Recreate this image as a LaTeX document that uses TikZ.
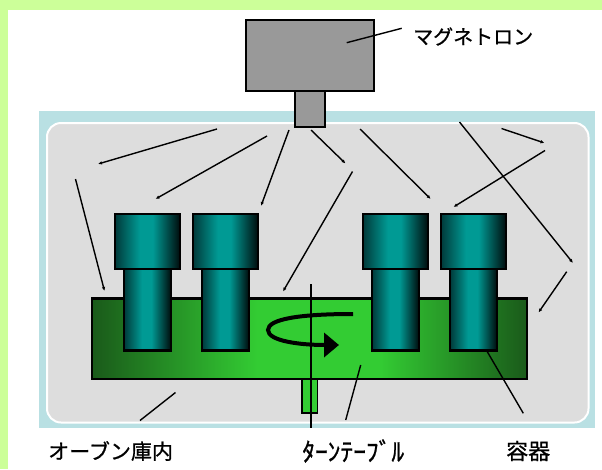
\documentclass[tikz,border=0pt]{standalone}
\usepackage{fontspec}
\newfontfamily\jp[FakeBold=0.8]{Noto Sans CJK JP}
\usepackage{tikz}
\usetikzlibrary{arrows.meta}
\definecolor{randgruen}{HTML}{CCFF99}
\definecolor{ofenblau}{HTML}{B9E0E3}
\definecolor{ofengrau}{HTML}{DDDDDD}
\definecolor{magnetgrau}{HTML}{999999}
\definecolor{tellerdunkel}{HTML}{1A5A1A}
\definecolor{tellerhell}{HTML}{33CC33}
\definecolor{tuerkisdunkel}{HTML}{003A3A}
\definecolor{tuerkishell}{HTML}{009A94}

% Verlaeufe fuer Drehteller und Gefaesse
\pgfdeclarehorizontalshading{drehteller}{100bp}{color(0bp)=(tellerdunkel); color(25bp)=(tellerdunkel); color(44bp)=(tellerhell); color(58bp)=(tellerhell); color(75bp)=(tellerdunkel); color(100bp)=(tellerdunkel)}
\pgfdeclarehorizontalshading{gefaess}{100bp}{color(0bp)=(tuerkisdunkel); color(25bp)=(tuerkisdunkel); color(44bp)=(tuerkishell); color(54bp)=(tuerkishell); color(75bp)=(black!80!tuerkisdunkel); color(100bp)=(black!80!tuerkisdunkel)}

\begin{document}
\begin{tikzpicture}[x=1pt, y=-1pt,
    rand/.style={draw=black, line width=2.7pt},
    welle/.style={line width=1.4pt, -{Latex[length=4pt,width=3.5pt]}},
    linie/.style={line width=1.4pt},
    beschriftung/.style={anchor=west, inner sep=0pt, font=\jp\fontsize{21}{24}\selectfont}]

    \useasboundingbox (0,0) rectangle (602,469);

    % Hintergrund
    \fill[randgruen] (0,0) rectangle (602,469);
    \fill[white] (8,10) rectangle (602,469);

    % Ofenraum
    \fill[ofenblau] (39,111) rectangle (595,428);
    \filldraw[fill=ofengrau, draw=white, line width=2pt, rounded corners=14pt] (47,123) rectangle (588.5,422.5);

    % Magnetron mit Ausgang
    \filldraw[fill=magnetgrau, rand] (295,91) rectangle (325,127);
    \filldraw[fill=magnetgrau, rand] (246,20) rectangle (374,91);

    % Drehteller
    \shade[shading=drehteller] (92,298.5) rectangle (527,379);
    \draw[rand] (92,298.5) rectangle (527,379);

    % Gefaesse (Koerper, dann Deckel)
    \foreach \x in {115,193,363,441} {
        \shade[shading=gefaess] (\x+9,269) rectangle (\x+56,350.5);
        \draw[rand] (\x+9,269) rectangle (\x+56,350.5);
        \shade[shading=gefaess] (\x,214) rectangle (\x+65,269);
        \draw[rand] (\x,214) rectangle (\x+65,269);
    }

    % Welle unter dem Teller
    \filldraw[fill=tellerhell, draw=black, line width=1.4pt] (302,379) rectangle (317.5,413);

    % Drehrichtung
    \draw[line width=4pt, -{Triangle[length=15pt,width=24pt]}]
        (353,314) .. controls (300,314) and (268,319) .. (268,330)
        .. controls (268,341) and (300,345) .. (339,345);

    % Drehachse
    \draw[line width=1.7pt] (311,284) -- (311,428);

    % Mikrowellen (Start/Ende)
    \foreach \a/\b/\c/\d in {217/129/98/164, 267/136/155.5/199, 289/130/261/206,
        311/130/345.5/163.5, 352.5/171.5/283/291.5, 75.5/179/104.5/291,
        360/129/430.7/199, 459.5/122/573/263, 501.5/128.5/544.5/143,
        545/150.5/453.5/207, 566.7/271.7/538.5/312.5} {
        \draw[welle] (\a,\b) -- (\c,\d);
    }

    % Beschriftungen
    \node[beschriftung, font=\jp\fontsize{20}{24}\selectfont] (magnetron) at (413,36.5) {マグネトロン};
    \node[beschriftung] (ofen) at (48,451) {オーブン庫内};
    \node[beschriftung, font=\jp\fontsize{25.5}{28}\selectfont] (teller) at (302,451) {ﾀｰﾝﾃｰﾌﾞﾙ};
    \node[beschriftung, font=\jp\fontsize{22}{24}\selectfont] (behaelter) at (506,451) {容器};

    % Hinweislinien
    \coordinate (m1) at (346.7,42.7);
    \coordinate (m2) at (401.7,28.3);
    \coordinate (o1) at (175.5,392.5);
    \coordinate (o2) at (140,420.5);
    \coordinate (t1) at (360.7,365);
    \coordinate (t2) at (345.7,420);
    \coordinate (b1) at (486.7,350.7);
    \coordinate (b2) at (523.3,413.3);
    \draw[linie] (m1) -- (m2);
    \draw[linie] (o1) -- (o2);
    \draw[linie] (t1) -- (t2);
    \draw[linie] (b1) -- (b2);
\end{tikzpicture}
\end{document}
